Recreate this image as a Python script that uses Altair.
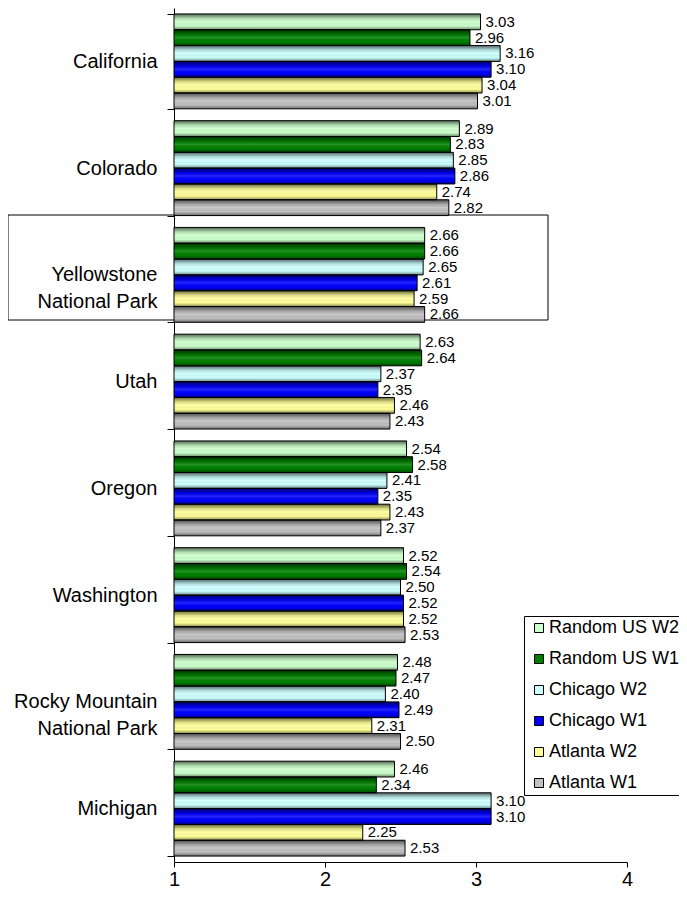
import altair as alt
import pandas as pd

categories = [
    "California",
    "Colorado",
    "Yellowstone National Park",
    "Utah",
    "Oregon",
    "Washington",
    "Rocky Mountain National Park",
    "Michigan",
]
series = ["Random US W2", "Random US W1", "Chicago W2", "Chicago W1", "Atlanta W2", "Atlanta W1"]
colors = ["#CCFFCC", "#008000", "#CCFFFF", "#0000FF", "#FFFF99", "#C0C0C0"]

random_us_w2 = [3.03, 2.89, 2.66, 2.63, 2.54, 2.52, 2.48, 2.46]
random_us_w1 = [2.96, 2.83, 2.66, 2.64, 2.58, 2.54, 2.47, 2.34]
chicago_w2 = [3.16, 2.85, 2.65, 2.37, 2.41, 2.50, 2.40, 3.10]
chicago_w1 = [3.10, 2.86, 2.61, 2.35, 2.35, 2.52, 2.49, 3.10]
atlanta_w2 = [3.04, 2.74, 2.59, 2.46, 2.43, 2.52, 2.31, 2.25]
atlanta_w1 = [3.01, 2.82, 2.66, 2.43, 2.37, 2.53, 2.50, 2.53]

x_ticks = [1, 2, 3, 4]

all_values = [random_us_w2, random_us_w1, chicago_w2, chicago_w1, atlanta_w2, atlanta_w1]
rows = []
for s, vals in zip(series, all_values):
    for c, v in zip(categories, vals):
        rows.append({"category": c, "series": s, "value": v})
df = pd.DataFrame(rows)

FONT = "Liberation Sans"
NB = "\u00a0"

label_expr = (
    "datum.label == 'Yellowstone National Park' ? ['Yellowstone" + NB + "', 'National Park'] : "
    "datum.label == 'Rocky Mountain National Park' ? ['Rocky Mountain', 'National Park" + NB + NB + "'] : "
    "datum.label"
)

base = alt.Chart(df).encode(
    y=alt.Y(
        "category:N",
        sort=categories,
        scale=alt.Scale(paddingInner=0.111, paddingOuter=0.0555),
        axis=alt.Axis(
            title=None,
            domainColor="black",
            tickColor="black",
            tickSize=7,
            tickBand="extent",
            labelFontSize=20,
            labelFont=FONT,
            labelColor="black",
            labelPadding=10,
            labelLineHeight=27,
            labelLimit=300,
            labelExpr=label_expr,
        ),
    ),
    yOffset=alt.YOffset("series:N", sort=series, scale=alt.Scale(paddingInner=0, paddingOuter=0)),
    x=alt.X(
        "value:Q",
        scale=alt.Scale(domain=[1, 4], nice=False, zero=False),
        axis=alt.Axis(
            title=None,
            values=x_ticks,
            format="d",
            grid=False,
            tickSize=5,
            domainColor="black",
            tickColor="black",
            labelFontSize=20,
            labelFont=FONT,
            labelColor="black",
            labelPadding=2,
            labelFlush=False,
        ),
    ),
)

bars = base.mark_bar(strokeWidth=0).encode(
    x2=alt.datum(1),
    color=alt.Color(
        "series:N",
        sort=series,
        scale=alt.Scale(domain=series, range=colors),
        legend=alt.Legend(
            title=None,
            orient="none",
            legendX=350,
            legendY=608,
            fillColor="white",
            strokeColor="black",
            padding=3,
            symbolOffset=3,
            symbolType="square",
            symbolSize=81,
            symbolStrokeColor="black",
            symbolStrokeWidth=1,
            symbolOpacity=1,
            labelFontSize=18,
            labelFont=FONT,
            labelColor="black",
            labelOffset=1,
            rowPadding=13,
            labelLimit=300,
        ),
    ),
)

shade = alt.Gradient(
    gradient="linear",
    x1=0, x2=0, y1=0, y2=1,
    stops=[
        alt.GradientStop(offset=0, color="rgba(0,0,0,0.6)"),
        alt.GradientStop(offset=0.3, color="rgba(0,0,0,0.12)"),
        alt.GradientStop(offset=0.5, color="rgba(255,255,255,0.15)"),
        alt.GradientStop(offset=0.75, color="rgba(0,0,0,0.0)"),
        alt.GradientStop(offset=1, color="rgba(0,0,0,0.45)"),
    ],
)

overlay = base.mark_bar(fill=shade, stroke="black", strokeWidth=1).encode(x2=alt.datum(1))

labels = base.mark_text(
    align="left", baseline="middle", dx=5, fontSize=15, font=FONT, color="black"
).encode(text=alt.Text("value:Q", format=".2f"))

box = alt.Chart(pd.DataFrame({"k": [0]})).mark_rect(
    fillOpacity=0, stroke="black", strokeWidth=1
).encode(
    x=alt.value(-166), x2=alt.value(374), y=alt.value(207), y2=alt.value(312)
)

chart = (
    alt.layer(box, bars, overlay, labels)
    .properties(
        width=453,
        height=854,
        padding={"left": 166, "top": 0, "right": 52, "bottom": 27},
        autosize=alt.AutoSizeParams(type="none"),
        background="white",
    )
    .configure(font=FONT)
    .configure_view(stroke=None)
)

chart.save("out.html", embed_options={"renderer": "svg", "actions": False})
